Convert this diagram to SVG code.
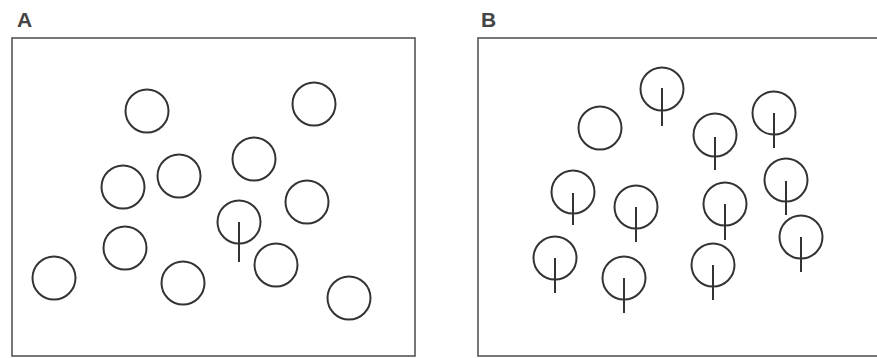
<svg xmlns="http://www.w3.org/2000/svg" width="877" height="358" viewBox="0 0 877 358">
<style>
.frame{fill:none;stroke:#555;stroke-width:1.6}
.c{fill:none;stroke:#333;stroke-width:2}
.s{stroke:#333;stroke-width:2}
.lbl{font-family:"Liberation Sans",Arial,sans-serif;font-weight:bold;font-size:21px;fill:#444}
</style>
<rect width="877" height="358" fill="#fff"/>
<g id="panelA">
<text class="lbl" x="17" y="27">A</text>
<rect class="frame" x="12" y="38" width="403" height="318"/>
<g id="a1"><circle class="c" cx="147" cy="111" r="21.5"/></g>
<g id="a2"><circle class="c" cx="314" cy="104" r="21.5"/></g>
<g id="a3"><circle class="c" cx="254" cy="159" r="21.5"/></g>
<g id="a4"><circle class="c" cx="179" cy="176" r="21.5"/></g>
<g id="a5"><circle class="c" cx="123" cy="187" r="21.5"/></g>
<g id="a6"><circle class="c" cx="307" cy="202" r="21.5"/></g>
<g id="a7"><circle class="c" cx="239" cy="222" r="21.5"/><line class="s" x1="239" y1="222" x2="239" y2="262"/></g>
<g id="a8"><circle class="c" cx="125" cy="248" r="21.5"/></g>
<g id="a9"><circle class="c" cx="276" cy="265" r="21.5"/></g>
<g id="a10"><circle class="c" cx="54" cy="278" r="21.5"/></g>
<g id="a11"><circle class="c" cx="183" cy="283" r="21.5"/></g>
<g id="a12"><circle class="c" cx="349" cy="298" r="21.5"/></g>
</g>
<g id="panelB">
<text class="lbl" x="481" y="27">B</text>
<rect class="frame" x="478" y="38" width="410" height="318"/>
<g id="b1"><circle class="c" cx="662" cy="89" r="21.5"/><line class="s" x1="662" y1="88" x2="662" y2="126"/></g>
<g id="b2"><circle class="c" cx="600" cy="128" r="21.5"/></g>
<g id="b3"><circle class="c" cx="774" cy="113" r="21.5"/><line class="s" x1="774" y1="113" x2="774" y2="148"/></g>
<g id="b4"><circle class="c" cx="715" cy="135" r="21.5"/><line class="s" x1="715" y1="137" x2="715" y2="170"/></g>
<g id="b5"><circle class="c" cx="786" cy="180" r="21.5"/><line class="s" x1="786" y1="181" x2="786" y2="215"/></g>
<g id="b6"><circle class="c" cx="573" cy="192" r="21.5"/><line class="s" x1="573" y1="193" x2="573" y2="225"/></g>
<g id="b7"><circle class="c" cx="636" cy="207" r="21.5"/><line class="s" x1="636" y1="207" x2="636" y2="242"/></g>
<g id="b8"><circle class="c" cx="725" cy="204" r="21.5"/><line class="s" x1="725" y1="204" x2="725" y2="240"/></g>
<g id="b9"><circle class="c" cx="801" cy="237" r="21.5"/><line class="s" x1="801" y1="237" x2="801" y2="272"/></g>
<g id="b10"><circle class="c" cx="555" cy="258" r="21.5"/><line class="s" x1="555" y1="258" x2="555" y2="293"/></g>
<g id="b11"><circle class="c" cx="624" cy="278" r="21.5"/><line class="s" x1="624" y1="278" x2="624" y2="313"/></g>
<g id="b12"><circle class="c" cx="713" cy="265" r="21.5"/><line class="s" x1="713" y1="265" x2="713" y2="300"/></g>
</g>
<g id="connectors"/>
</svg>
